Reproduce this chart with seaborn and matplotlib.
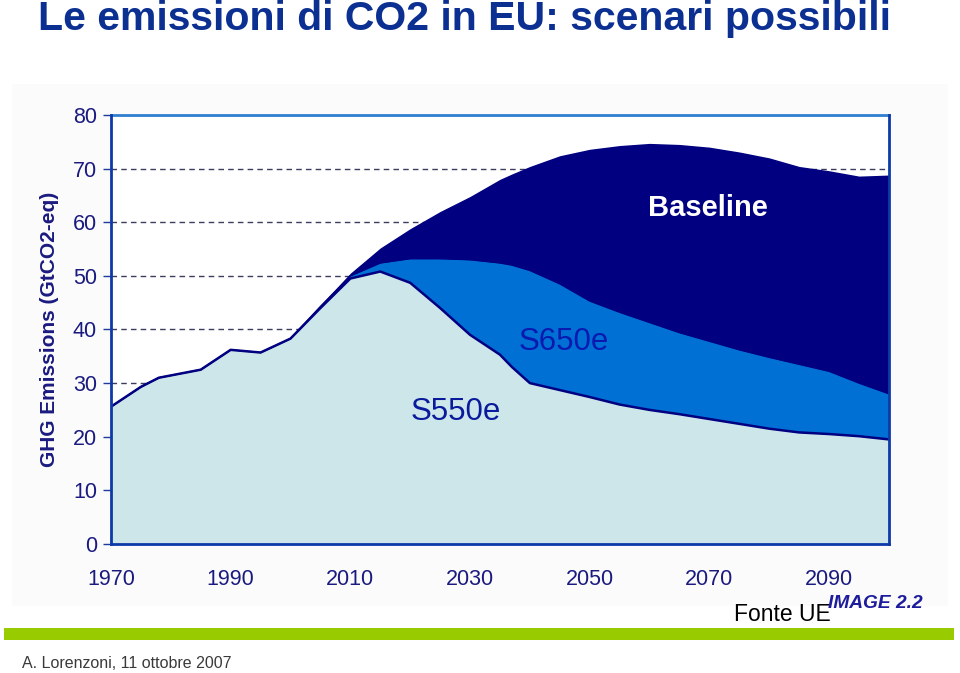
import numpy as np
import pandas as pd
import seaborn as sns
import matplotlib.pyplot as plt
from matplotlib.patches import Rectangle

# values (GtCO2-eq)
years = [1970, 1975, 1978, 1985, 1990, 1995, 2000, 2005, 2010, 2015, 2020, 2025,
         2030, 2035, 2037, 2040, 2045, 2050, 2055, 2060, 2065, 2070, 2075, 2080,
         2085, 2090, 2095, 2100]
baseline = [25.6, 29.3, 31.0, 32.5, 36.2, 35.7, 38.3, 44.5, 50.5, 55.2, 58.8, 62.0,
            64.8, 68.0, 69.0, 70.4, 72.4, 73.6, 74.3, 74.7, 74.5, 74.0, 73.1, 72.0,
            70.4, 69.6, 68.6, 68.8]
s650e = [25.6, 29.3, 31.0, 32.5, 36.2, 35.7, 38.3, 44.3, 50.0, 52.4, 53.2, 53.2,
         53.0, 52.4, 52.0, 51.0, 48.5, 45.3, 43.2, 41.3, 39.4, 37.8, 36.2, 34.8,
         33.5, 32.2, 30.0, 28.0]
s550e = [25.6, 29.3, 31.0, 32.5, 36.2, 35.7, 38.3, 44.0, 49.5, 50.8, 48.7, 44.0,
         39.0, 35.3, 33.0, 30.0, 28.7, 27.4, 26.0, 25.0, 24.2, 23.3, 22.4, 21.5,
         20.8, 20.5, 20.1, 19.5]

x_ticks = [1970, 1990, 2010, 2030, 2050, 2070, 2090]
y_ticks = [0, 10, 20, 30, 40, 50, 60, 70, 80]

df = pd.DataFrame({"year": years, "Baseline": baseline, "S650e": s650e, "S550e": s550e})

navy = "#000080"
mid_blue = "#0070d4"
light = "#cde6e9"
tick_col = "#1a1a80"

sns.set_style("white")
plt.rcParams["font.family"] = ["Liberation Sans", "DejaVu Sans"]

fig = plt.figure(figsize=(9.6, 6.73), dpi=100)
fig.patch.set_facecolor("white")

# faint backdrop of the pasted chart image
back = fig.add_axes([0.012, 0.1, 0.975, 0.775])
back.set_axis_off()
back.add_patch(Rectangle((0, 0), 1, 1, transform=back.transAxes,
                         facecolor="#fbfbfb", edgecolor="none"))

ax = fig.add_axes([0.1156, 0.1917, 0.8104, 0.6375])
ax.set_facecolor("white")

# dashed grid under the areas
for v in y_ticks[1:-1]:
    ax.axhline(v, color="#3c3c5e", lw=1.0, ls=(0, (4, 3)), zorder=1)

ax.fill_between(df["year"], 0, df["Baseline"], color=navy, lw=0, zorder=2)
ax.fill_between(df["year"], 0, df["S650e"], color=mid_blue, lw=0, zorder=3)
ax.fill_between(df["year"], 0, df["S550e"], color=light, lw=0, zorder=4)
sns.lineplot(data=df, x="year", y="S650e", color=navy, lw=1.0, ax=ax, zorder=5)
sns.lineplot(data=df, x="year", y="S550e", color=navy, lw=1.8, ax=ax, zorder=6)

ax.set_xlim(1970, 2100)
ax.set_ylim(0, 80)
ax.set_xticks(x_ticks)
ax.set_yticks(y_ticks)
ax.set_xlabel("")
ax.set_ylabel("GHG Emissions (GtCO2-eq)", fontsize=15, fontweight="bold",
              color=tick_col, labelpad=10)

ax.tick_params(axis="x", direction="in", length=6, width=1, color="#1c3c9c",
               labelsize=15.5, labelcolor=tick_col, pad=18)
ax.tick_params(axis="y", direction="out", length=6, width=1, color="#1c3c9c",
               labelsize=15.5, labelcolor=tick_col, pad=4)
ax.xaxis.set_ticks_position("bottom")
ax.yaxis.set_ticks_position("left")

for side in ["left", "bottom", "right"]:
    ax.spines[side].set_color("#0d3aa8")
    ax.spines[side].set_linewidth(2)
    ax.spines[side].set_zorder(10)
ax.spines["top"].set_color("#2f7fd0")
ax.spines["top"].set_linewidth(2)

# area labels
ax.text(2069.7, 62.7, "Baseline", color="white", fontsize=21, fontweight="bold",
        ha="center", va="center", zorder=7)
ax.text(2045.7, 37.7, "S650e", color="#0a1ab0", fontsize=22.5, ha="center",
        va="center", zorder=7)
ax.text(2027.6, 24.6, "S550e", color="#0a1a9c", fontsize=22.5, ha="center",
        va="center", zorder=7)

# slide decorations
fig.text(0.04, 0.955, "Le emissioni di CO2 in EU: scenari possibili", fontsize=29.5,
         fontweight="bold", color="#0b3092", ha="left", va="baseline")
fig.patches.append(Rectangle((0.004, 0.049), 0.99, 0.018, transform=fig.transFigure,
                             facecolor="#99cc00", edgecolor="none", zorder=1))
fig.text(0.023, 0.0074, "A. Lorenzoni, 11 ottobre 2007", fontsize=11.5,
         color="#3a3a3a", ha="left", va="baseline")
fig.text(0.765, 0.077, "Fonte UE", fontsize=16.5, color="black", ha="left",
         va="baseline")
fig.text(0.862, 0.097, "IMAGE 2.2", fontsize=13.8, color="#1c1c9c",
         fontweight="bold", fontstyle="italic", ha="left", va="baseline")

fig.savefig("out.png", dpi=100)
